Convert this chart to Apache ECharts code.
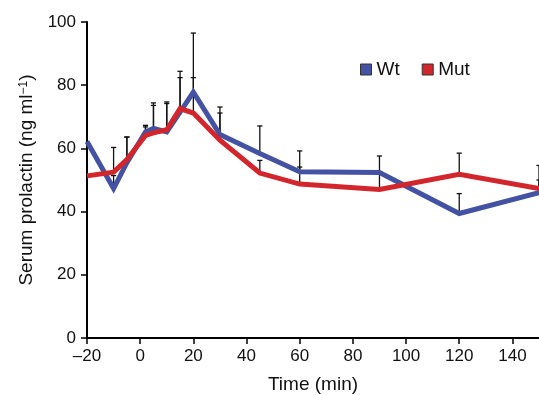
<!DOCTYPE html>
<html>
<head>
<meta charset="utf-8">
<script src="https://cdn.jsdelivr.net/npm/echarts@6/dist/echarts.min.js"></script>
<style>
html,body{margin:0;padding:0;background:#fff;}
#c{width:539px;height:395px;}
</style>
</head>
<body>
<div id="c"></div>
<script>
const times = [-20, -10, -5, 2, 5, 10, 15, 20, 30, 45, 60, 90, 120, 150];
const wt = [62.2, 47.3, 55.5, 65.2, 66.3, 65.2, 71.5, 77.8, 64.4, 58.4, 52.6, 52.4, 39.4, 46.0];
const mut = [51.3, 52.5, 56.5, 64.1, 64.9, 65.9, 72.6, 71.2, 62.6, 52.2, 48.7, 47.0, 51.8, 47.3];
const wtTop = [62.2, 51.4, 63.6, 67.3, 74.4, 74.7, 84.4, 96.5, 73.1, 67.1, 59.2, 57.6, 45.7, 50.0];
const mutTop = [51.3, 60.3, 63.6, 66.8, 73.6, 74.2, 82.4, 82.4, 71.2, 56.2, 54.1, 52.4, 58.5, 54.6];
const xTicks = [-20, 0, 20, 40, 60, 80, 100, 120, 140];
const yTicks = [0, 20, 40, 60, 80, 100];

const FONT = 'Liberation Sans, Arial, Helvetica, sans-serif';
const BLUE = '#4352a2';
const RED = '#d3262c';

function errItem(params, api) {
  const x = api.value(0), v = api.value(1), t = api.value(2);
  if (!(t > v)) return;
  const p0 = api.coord([x, v]);
  const p1 = api.coord([x, t]);
  const st = { stroke: '#111', lineWidth: 1.3 };
  return {
    type: 'group',
    children: [
      { type: 'line', shape: { x1: p0[0], y1: p0[1], x2: p1[0], y2: p1[1] }, style: st },
      { type: 'line', shape: { x1: p1[0] - 2.6, y1: p1[1], x2: p1[0] + 2.6, y2: p1[1] }, style: st }
    ]
  };
}

const chart = echarts.init(document.getElementById('c'), null, { renderer: 'canvas' });
chart.setOption({
  animation: false,
  textStyle: { fontFamily: FONT },
  grid: { left: 87, right: 0, top: 22, bottom: 57, containLabel: false, outerBoundsMode: 'none' },
  legend: {
    data: ['Wt', 'Mut'],
    left: 355, top: 55,
    icon: 'rect', itemWidth: 11, itemHeight: 11, itemGap: 22,
    itemStyle: { borderColor: '#333', borderWidth: 1 },
    textStyle: { fontFamily: FONT, fontSize: 19, color: '#111' }
  },
  xAxis: {
    type: 'value', min: -20, max: 150, interval: 20,
    name: 'Time (min)', nameLocation: 'middle', nameGap: 37,
    nameTextStyle: { fontFamily: FONT, fontSize: 19, color: '#111' },
    axisLine: { onZero: false, lineStyle: { color: '#000', width: 2 } },
    axisTick: { show: true, length: 6, lineStyle: { color: '#000', width: 1.5 }, customValues: xTicks },
    axisLabel: { fontFamily: FONT, fontSize: 17, color: '#111', margin: 10,
      customValues: xTicks,
      formatter: v => String(v).replace('-', '\u2013') },
    splitLine: { show: false }
  },
  yAxis: {
    type: 'value', min: 0, max: 100, interval: 20,
    name: 'Serum prolactin (ng ml{sup|\u22121})', nameLocation: 'middle', nameGap: 46,
    nameTextStyle: { fontFamily: FONT, fontSize: 19, color: '#111',
      rich: { sup: { fontFamily: FONT, fontSize: 12, color: '#111', verticalAlign: 'top', padding: [0, 0, 8, 0] } } },
    axisLine: { show: true, onZero: false, lineStyle: { color: '#000', width: 2 } },
    axisTick: { show: true, length: 6, lineStyle: { color: '#000', width: 1.5 }, customValues: yTicks },
    axisLabel: { fontFamily: FONT, fontSize: 17, color: '#111', margin: 11, customValues: yTicks },
    splitLine: { show: false }
  },
  series: [
    { type: 'custom', name: 'errWt', renderItem: errItem, z: 1,
      data: times.map((t, i) => [t, wt[i], wtTop[i]]), encode: { x: 0, y: [1, 2] } },
    { type: 'custom', name: 'errMut', renderItem: errItem, z: 1,
      data: times.map((t, i) => [t, mut[i], mutTop[i]]), encode: { x: 0, y: [1, 2] } },
    { type: 'line', name: 'Wt', z: 3, symbol: 'none', color: BLUE,
      lineStyle: { color: BLUE, width: 5, join: 'miter' },
      data: times.map((t, i) => [t, wt[i]]) },
    { type: 'line', name: 'Mut', z: 4, symbol: 'none', color: RED,
      lineStyle: { color: RED, width: 5, join: 'miter' },
      data: times.map((t, i) => [t, mut[i]]) }
  ]
});
</script>
</body>
</html>
